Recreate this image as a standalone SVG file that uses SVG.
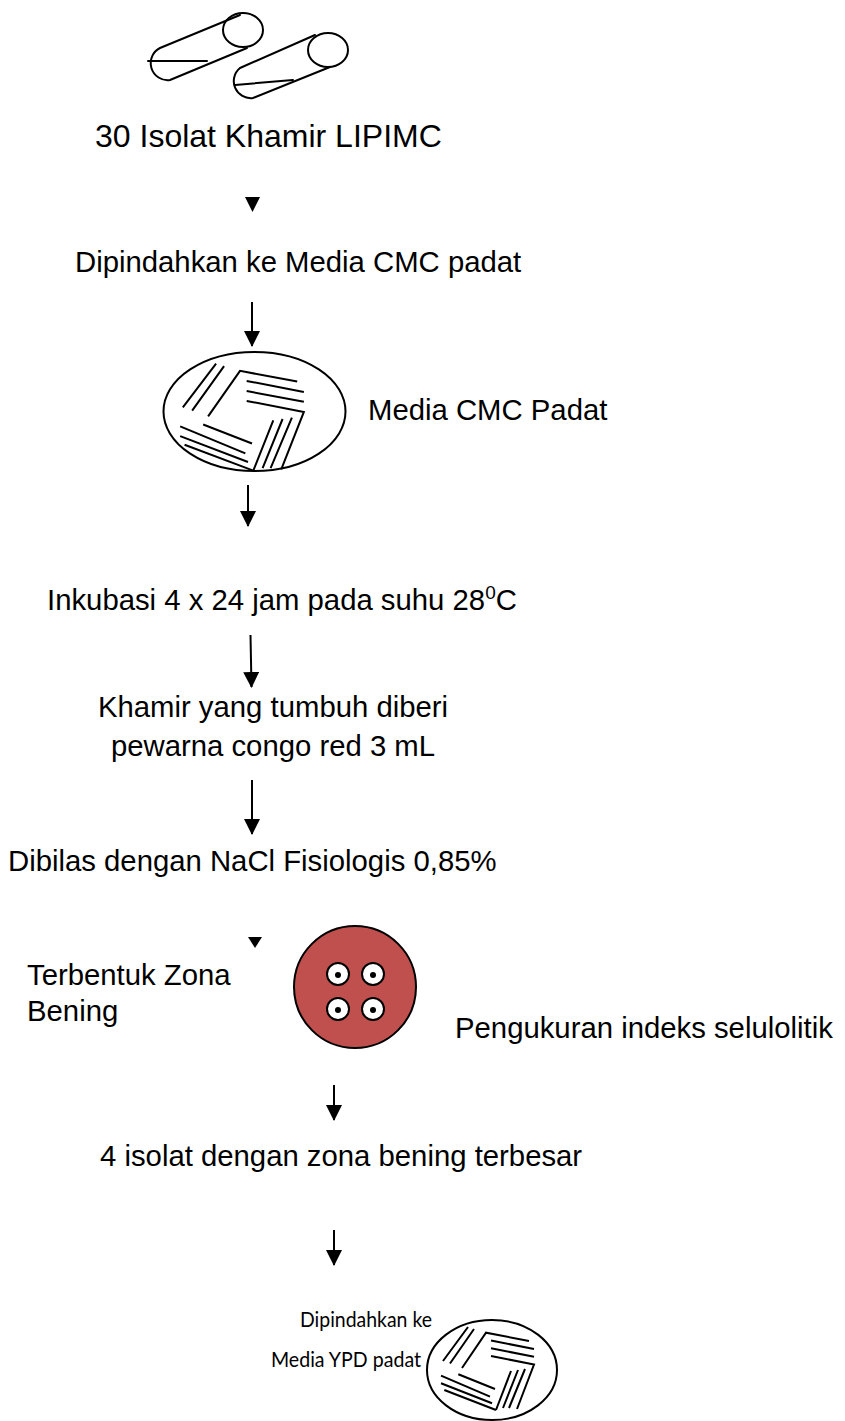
<svg xmlns="http://www.w3.org/2000/svg" width="845" height="1421" viewBox="0 0 845 1421">
  <style>
    .t { font-family: "Liberation Sans", Arial, sans-serif; font-size: 29.3px; fill: #000; }
    .c { font-family: Lato, "Open Sans", sans-serif; font-size: 21.5px; fill: #000; }
    .ln { fill: none; stroke: #000; stroke-width: 2; stroke-linecap: round; stroke-linejoin: round; }
    .st { fill: none; stroke: #000; stroke-width: 2; stroke-linecap: butt; vector-effect: non-scaling-stroke; }
    .arrow { fill: none; stroke: #000; stroke-width: 2; marker-end: url(#head); }
    .tip { fill: #000; stroke: none; }
  </style>
  <defs>
    <marker id="head" markerUnits="userSpaceOnUse" markerWidth="16" markerHeight="16" refX="15" refY="8" orient="auto">
      <path d="M0,0 L16,8 L0,16 z" fill="#000"/>
    </marker>
    <!-- streak pattern on an agar plate, drawn around the plate centre -->
    <g id="streaks">
      <path class="st" d="M-24,-43 L-49,-9 M-18,-41 L-42,-6.5"/>
      <path class="st" d="M-30,-2 L-6,-37.3 L37,-29"/>
      <path class="st" d="M-1,-29.5 L42,-21 M-1,-21.7 L42,-13.3 M-1,-14 L42,-5.5 L25,39"/>
      <path class="st" d="M33,-1 L17,38 M26,0 L11,38 M19,1 L4,40"/>
      <path class="st" d="M-33.7,4.3 L3,19 M-51,5.7 L-2,26.7 M-51,13.3 L0,33.3 M-47.7,20 L4,40"/>
    </g>
  </defs>

  <!-- two culture tubes -->
  <g id="tubes">
    <path class="ln" d="M240,15 L160,48 A17,17 0 0 0 170,80 L247,48"/>
    <ellipse class="ln" cx="243" cy="30" rx="20" ry="17"/>
    <path class="ln" d="M148,61 L207,61"/>
    <path class="ln" d="M315,35 L240,68 A17,17 0 0 0 253,98 L330,67"/>
    <ellipse class="ln" cx="328" cy="50" rx="20" ry="17"/>
    <path class="ln" d="M235,85 L293,80"/>
  </g>

  <g id="isolat">
    <text class="t" x="95" y="147" style="font-size:32px">30 Isolat Khamir LIPIMC</text>
  </g>

  <g id="pindah-cmc">
    <text class="t" x="75" y="272">Dipindahkan ke Media CMC padat</text>
  </g>

  <g id="plate-cmc">
    <ellipse class="ln" cx="254.5" cy="411.5" rx="91" ry="59.5"/>
    <use href="#streaks" transform="translate(248,419) scale(1.33,1.29)"/>
    <text class="t" x="368" y="420">Media CMC Padat</text>
  </g>

  <g id="inkubasi">
    <text class="t" x="47" y="610">Inkubasi 4 x 24 jam pada suhu 28<tspan font-size="19" dy="-11">0</tspan><tspan dy="11">C</tspan></text>
  </g>

  <g id="pewarnaan">
    <text class="t" x="273" y="717" text-anchor="middle">Khamir yang tumbuh diberi</text>
    <text class="t" x="273" y="756" text-anchor="middle">pewarna congo red 3 mL</text>
  </g>

  <g id="bilas">
    <text class="t" x="8" y="871">Dibilas dengan NaCl Fisiologis 0,85%</text>
  </g>

  <g id="zona-bening">
    <text class="t" x="27" y="985">Terbentuk Zona</text>
    <text class="t" x="27" y="1021">Bening</text>
  </g>

  <g id="plate-congo">
    <circle cx="355" cy="987" r="61" fill="#c0504d" stroke="#000" stroke-width="2"/>
    <g fill="#fff" stroke="#000" stroke-width="2">
      <circle cx="338" cy="974" r="11"/>
      <circle cx="373" cy="974" r="11"/>
      <circle cx="338" cy="1009" r="11"/>
      <circle cx="373" cy="1009" r="11"/>
    </g>
    <g fill="#000">
      <circle cx="338" cy="975" r="3"/>
      <circle cx="373" cy="975" r="3"/>
      <circle cx="338" cy="1010" r="3"/>
      <circle cx="373" cy="1010" r="3"/>
    </g>
  </g>

  <g id="indeks">
    <text class="t" x="455" y="1038">Pengukuran indeks selulolitik</text>
  </g>

  <g id="terpilih">
    <text class="t" x="100" y="1166">4 isolat dengan zona bening terbesar</text>
  </g>

  <g id="plate-ypd">
    <text class="c" x="300" y="1327" textLength="132" lengthAdjust="spacingAndGlyphs">Dipindahkan ke</text>
    <text class="c" x="271" y="1367" textLength="150" lengthAdjust="spacingAndGlyphs">Media YPD padat</text>
    <ellipse class="ln" cx="492" cy="1370" rx="65" ry="50"/>
    <use href="#streaks" transform="translate(492,1370)"/>
  </g>

  <g id="connectors">
    <path class="tip" d="M245,197 L260,197 L252.5,212 z"/>
    <line class="arrow" x1="252" y1="302" x2="252" y2="346"/>
    <line class="arrow" x1="248" y1="485" x2="248" y2="526"/>
    <line class="arrow" x1="250.5" y1="635" x2="251.5" y2="687"/>
    <line class="arrow" x1="252" y1="780" x2="252" y2="834"/>
    <path class="tip" d="M248,937 L262,937 L255,948 z"/>
    <line class="arrow" x1="334" y1="1085" x2="334" y2="1120"/>
    <line class="arrow" x1="334" y1="1230" x2="334" y2="1265"/>
  </g>
</svg>
